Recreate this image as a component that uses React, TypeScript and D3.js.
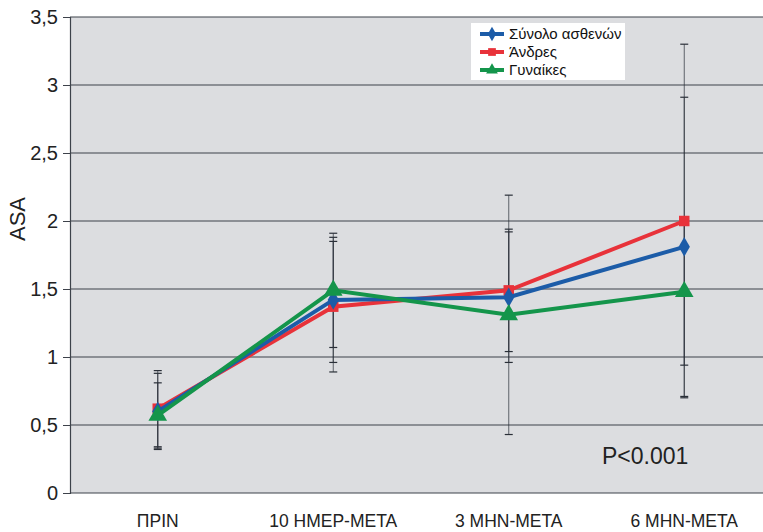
import React, { useEffect, useRef } from 'react'
import * as d3 from 'd3'

const categories = ['ΠΡΙΝ', '10 ΗΜΕΡ-ΜΕΤΑ', '3 ΜΗΝ-ΜΕΤΑ', '6 ΜΗΝ-ΜΕΤΑ']
const yTicks = [0, 0.5, 1, 1.5, 2, 2.5, 3, 3.5]

// means and standard deviations
const totalMean = [0.6, 1.42, 1.44, 1.81]
const totalSd = [0.28, 0.46, 0.48, 1.1]
const menMean = [0.62, 1.37, 1.49, 2.0]
const menSd = [0.28, 0.48, 0.45, 1.3]
const womenMean = [0.57, 1.49, 1.31, 1.48]
const womenSd = [0.24, 0.42, 0.88, 0.54]

const series = [
  { name: 'Σύνολο ασθενών', mean: totalMean, sd: totalSd, color: '#1c5ca8', shape: d3.symbolDiamond },
  { name: 'Άνδρες', mean: menMean, sd: menSd, color: '#e8323a', shape: d3.symbolSquare },
  { name: 'Γυναίκες', mean: womenMean, sd: womenSd, color: '#14954b', shape: d3.symbolTriangle },
]
const drawOrder = [1, 0, 2]
const font = 'Liberation Sans, Arial, sans-serif'

export default function App() {
  const svgRef = useRef<SVGSVGElement>(null)

  useEffect(() => {
    const svg = d3.select(svgRef.current)
    svg.selectAll('*').remove()
    const W = 763, H = 532
    const left = 70, top = 17, bottom = 493

    const x = d3.scaleBand().domain(categories).range([left, left + 4 * 175.5])
    const cx = (c: string) => (x(c) as number) + x.bandwidth() / 2
    const y = d3.scaleLinear().domain([0, 3.5]).range([bottom, top])

    svg.append('rect').attr('x', 0).attr('y', 0).attr('width', W).attr('height', H).attr('fill', '#fff')
    svg.append('rect').attr('x', left).attr('y', top).attr('width', W - left).attr('height', bottom - top)
      .attr('fill', '#dcdde0')

    // grid
    svg.append('g').selectAll('line').data(yTicks).enter().append('line')
      .attr('x1', left).attr('x2', W)
      .attr('y1', d => y(d)).attr('y2', d => y(d))
      .attr('stroke', '#3d424a').attr('stroke-width', 1.2)

    // y axis
    const ya = svg.append('g').attr('transform', `translate(${left},0)`)
      .call(d3.axisLeft(y).tickValues(yTicks).tickSize(7).tickPadding(5)
        .tickFormat(d => String(d).replace('.', ',')))
    ya.select('.domain').attr('stroke', '#3d424a').attr('stroke-width', 1.2)
    ya.selectAll('.tick line').attr('stroke', '#3d424a')
    ya.selectAll('text').attr('font-size', 20).attr('fill', '#222').attr('font-family', font)

    svg.append('text').attr('transform', `translate(25,219) rotate(-90)`)
      .attr('text-anchor', 'middle').attr('font-size', 22).attr('fill', '#222')
      .attr('font-family', font).text('ASA')

    // x labels
    svg.append('g').selectAll('text').data(categories).enter().append('text')
      .attr('x', d => cx(d)).attr('y', 527).attr('text-anchor', 'middle')
      .attr('font-size', 17.5).attr('fill', '#222')
      .attr('font-family', font).text(d => d)

    // error bars
    const eb = svg.append('g')
    series.forEach(s => {
      categories.forEach((c, i) => {
        const hi = y(s.mean[i] + s.sd[i]), lo = y(s.mean[i] - s.sd[i]), xc = cx(c)
        eb.append('line').attr('x1', xc).attr('x2', xc).attr('y1', hi).attr('y2', lo)
          .attr('stroke', '#2a2f38').attr('stroke-width', 1).attr('opacity', 0.7)
        ;[hi, lo].forEach(v => eb.append('line').attr('x1', xc - 4).attr('x2', xc + 4)
          .attr('y1', v).attr('y2', v).attr('stroke', '#2a2f38').attr('stroke-width', 1.2))
      })
    })

    // lines + markers
    const line = d3.line<number>().x((_, i) => cx(categories[i])).y(d => y(d))
    drawOrder.forEach(k => {
      const s = series[k]
      svg.append('path').datum(s.mean).attr('d', line).attr('fill', 'none')
        .attr('stroke', s.color).attr('stroke-width', 4).attr('stroke-linejoin', 'miter')
      svg.append('g').selectAll('path').data(s.mean).enter().append('path')
        .attr('transform', (d, i) => `translate(${cx(categories[i])},${y(d)})`)
        .attr('d', d3.symbol().type(s.shape).size(s.shape === d3.symbolTriangle ? 150 : 110)())
        .attr('fill', s.color)
    })

    // legend
    const lg = svg.append('g').attr('transform', 'translate(471,23)')
    lg.append('rect').attr('width', 154).attr('height', 57).attr('fill', '#fff')
    series.forEach((s, i) => {
      const yy = 11 + i * 18
      lg.append('line').attr('x1', 9).attr('x2', 33).attr('y1', yy).attr('y2', yy)
        .attr('stroke', s.color).attr('stroke-width', 4)
      lg.append('path').attr('transform', `translate(21,${yy})`)
        .attr('d', d3.symbol().type(s.shape).size(60)()).attr('fill', s.color)
      lg.append('text').attr('x', 38).attr('y', yy + 5).attr('font-size', 15).attr('fill', '#111')
        .attr('font-family', font).text(s.name)
    })

    svg.append('text').attr('x', 602).attr('y', 464).attr('font-size', 23).attr('fill', '#222')
      .attr('font-family', font).text('P<0.001')
  }, [])

  return (
    <svg ref={svgRef} width={763} height={532}
      style={{ position: 'absolute', left: 0, top: 0, display: 'block' }} />
  )
}
